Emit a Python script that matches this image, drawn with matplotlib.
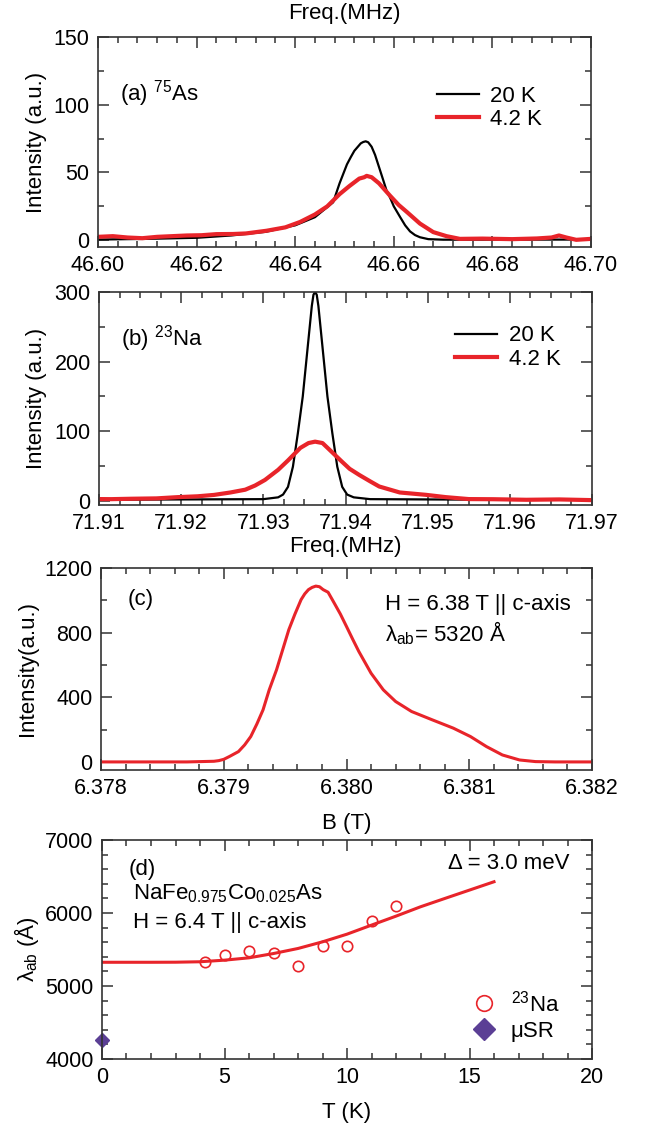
import numpy as np
import matplotlib
matplotlib.use("Agg")
import matplotlib.pyplot as plt
from matplotlib.ticker import MultipleLocator

plt.rcParams['font.family'] = ['Liberation Sans', 'DejaVu Sans']
plt.rcParams['mathtext.fontset'] = 'custom'
plt.rcParams['mathtext.rm'] = 'Liberation Sans'
plt.rcParams['mathtext.it'] = 'Liberation Sans:italic'
plt.rcParams['mathtext.default'] = 'regular'
plt.rcParams['lines.solid_joinstyle'] = 'round'

RED = '#e8242a'
PURPLE = '#5b3f95'

# --- (a) 75As spectra ---
as_freq_20k = [46.600, 46.610, 46.620, 46.627, 46.634, 46.640, 46.644, 46.6477, 46.649,
               46.6505, 46.6513, 46.652, 46.6533, 46.6538, 46.6543, 46.6548, 46.6555,
               46.6562, 46.657, 46.6578, 46.6585, 46.6593, 46.660, 46.6613, 46.6623,
               46.6633, 46.6643, 46.6653, 46.667, 46.670, 46.700]
as_int_20k = [0.5, 1.0, 1.8, 3.5, 6.2, 11, 17, 28, 42,
              56, 61.5, 66, 71.5, 72.5, 73, 72.3, 69,
              63, 54, 45, 37, 31, 25, 17, 11,
              6.5, 3.8, 2.2, 0.8, 0.4, 0.5]
as_freq_4k = [46.600, 46.603, 46.606, 46.609, 46.612, 46.615, 46.618, 46.621, 46.624,
              46.6274, 46.630, 46.6342, 46.638, 46.641, 46.644, 46.6465, 46.649, 46.651,
              46.653, 46.654, 46.6545, 46.6555, 46.657, 46.6592, 46.661, 46.6626, 46.664,
              46.6653, 46.668, 46.6707, 46.6734, 46.678, 46.684, 46.689, 46.692, 46.6935,
              46.695, 46.697, 46.700]
as_int_4k = [2.5, 3.0, 2.0, 1.5, 2.5, 3.0, 3.5, 3.7, 4.5,
             4.6, 5.0, 7.0, 9.5, 13.5, 19, 25, 34, 40,
             45.5, 46.5, 47.5, 46.5, 42, 33, 26, 21, 16.5,
             12.3, 6.0, 3.0, 1.0, 1.2, 0.8, 1.3, 2.0, 3.5,
             2.0, 0.3, 1.0]

# --- (b) 23Na spectra ---
na_freq_20k = [71.910, 71.920, 71.930, 71.9318, 71.9324, 71.933, 71.9336, 71.9342, 71.9348,
               71.9354, 71.9359, 71.9361, 71.9363, 71.9365, 71.9367, 71.9372, 71.9378,
               71.9384, 71.939, 71.9396, 71.9402, 71.941, 71.943, 71.950, 71.960, 71.970]
na_int_20k = [1.5, 2.0, 2.4, 5, 9, 20, 49, 97, 150,
              221, 280, 296, 300, 296, 280, 221, 150,
              97, 49, 20, 9, 5, 2.4, 2.0, 1.5, 1.5]
na_freq_4k = [71.910, 71.9115, 71.914, 71.917, 71.9196, 71.922, 71.924, 71.926, 71.9278,
              71.929, 71.9302, 71.9318, 71.933, 71.9345, 71.9355, 71.9363, 71.9372, 71.938,
              71.9395, 71.9405, 71.9417, 71.943, 71.9441, 71.9466, 71.9498, 71.9522,
              71.955, 71.958, 71.962, 71.966, 71.970]
na_int_4k = [2.5, 2.4, 3.0, 3.5, 5.3, 6.5, 8.5, 12, 16,
             22, 30, 44.5, 58, 76, 83, 85, 83, 74,
             57, 46, 37, 28, 20.6, 12, 8.6, 5.3,
             2.5, 2.3, 1.5, 2.0, 1.0]

# --- (c) field distribution ---
field_b = [6.3780, 6.3787, 6.37892, 6.37896, 6.3790, 6.37905, 6.37912, 6.37917, 6.37922,
           6.37927, 6.37932, 6.37937, 6.37943, 6.37953, 6.37958, 6.37963, 6.37966,
           6.37969, 6.37972, 6.37975, 6.37978, 6.37981, 6.37985, 6.3799, 6.37995,
           6.3800, 6.38005, 6.3801, 6.3802, 6.3803, 6.3804, 6.38053, 6.3807, 6.38087,
           6.38101, 6.38114, 6.38127, 6.38141, 6.38154, 6.3817, 6.3820]
field_int = [0, 0, 4, 8, 16, 35, 64, 105, 157,
             235, 322, 445, 570, 818, 915, 1004, 1040,
             1066, 1080, 1088, 1084, 1066, 1050, 983, 915,
             838, 760, 684, 549, 446, 374, 312, 260, 209,
             157, 95, 43, 12, 2, 0, 0]

# --- (d) penetration depth vs temperature ---
temp_na = [4.2, 5, 6, 7, 8, 9, 10, 11, 12]
lam_na = [5322, 5418, 5482, 5450, 5276, 5546, 5546, 5893, 6095]
temp_musr = [0]
lam_musr = [4260]
temp_fit = [0, 1, 2, 3, 4, 5, 6, 7, 8, 9, 10, 11, 12, 13, 14, 15, 16]
lam_fit = [5325, 5325, 5325, 5326, 5332, 5354, 5386, 5445, 5514, 5605, 5710, 5834,
           5957, 6085, 6200, 6314, 6428]

TICK_FS = 15.5
LABEL_FS = 16


def style_axes(ax):
    for s in ax.spines.values():
        s.set_linewidth(1.2)
        s.set_color('#333333')
    ax.tick_params(which='both', direction='in', top=True, right=True,
                   labelsize=TICK_FS, color='#333333', width=1.1)
    ax.tick_params(which='major', length=8, pad=6)
    ax.tick_params(which='minor', length=4.5)


fig = plt.figure(figsize=(6.47, 11.26), dpi=100)
W, H = 647.0, 1126.0


def make_axes(left, right, top, bottom):
    return fig.add_axes([left / W, 1 - bottom / H, (right - left) / W, (bottom - top) / H])


# (a)
ax = make_axes(98, 591, 37, 247)
ax.plot(as_freq_20k, as_int_20k, color='black', lw=1.6, label='20 K')
ax.plot(as_freq_4k, as_int_4k, color=RED, lw=3.0, label='4.2 K')
ax.set_xlim(46.60, 46.70)
ax.set_ylim(-5, 150)
ax.xaxis.set_major_locator(MultipleLocator(0.02))
ax.xaxis.set_minor_locator(MultipleLocator(0.004))
ax.yaxis.set_major_locator(MultipleLocator(50))
ax.yaxis.set_minor_locator(MultipleLocator(25))
ax.set_xticklabels([f'{v:.2f}' for v in ax.get_xticks()])
ax.xaxis.set_label_position('top')
ax.set_xlabel('Freq.(MHz)', fontsize=LABEL_FS, labelpad=13)
ax.set_ylabel('Intensity (a.u.)', fontsize=LABEL_FS, labelpad=5)
ax.text(0.045, 0.73, '(a) $^{75}$As', transform=ax.transAxes, fontsize=LABEL_FS, va='center')
ax.legend(loc='upper left', bbox_to_anchor=(0.665, 0.82), frameon=False, fontsize=LABEL_FS,
          handlelength=1.9, handletextpad=0.5, labelspacing=0.1, borderpad=0)
style_axes(ax)

# (b)
ax = make_axes(99, 592, 292, 505)
ax.plot(na_freq_20k, na_int_20k, color='black', lw=1.6, label='20 K')
ax.plot(na_freq_4k, na_int_4k, color=RED, lw=3.0, label='4.2 K')
ax.set_xlim(71.91, 71.97)
ax.set_ylim(-6, 300)
ax.xaxis.set_major_locator(MultipleLocator(0.01))
ax.xaxis.set_minor_locator(MultipleLocator(0.0025))
ax.yaxis.set_major_locator(MultipleLocator(100))
ax.yaxis.set_minor_locator(MultipleLocator(50))
ax.set_xticklabels([f'{v:.2f}' for v in ax.get_xticks()])
ax.set_xlabel('Freq.(MHz)', fontsize=LABEL_FS, labelpad=1)
ax.set_ylabel('Intensity (a.u.)', fontsize=LABEL_FS, labelpad=5)
ax.text(0.045, 0.78, '(b) $^{23}$Na', transform=ax.transAxes, fontsize=LABEL_FS, va='center')
ax.legend(loc='upper left', bbox_to_anchor=(0.70, 0.895), frameon=False, fontsize=LABEL_FS,
          handlelength=1.9, handletextpad=0.5, labelspacing=0.1, borderpad=0)
style_axes(ax)

# (c)
ax = make_axes(101, 592, 568, 770)
ax.plot(field_b, field_int, color=RED, lw=2.2)
ax.set_xlim(6.378, 6.382)
ax.set_ylim(-50, 1200)
ax.xaxis.set_major_locator(MultipleLocator(0.001))
ax.xaxis.set_minor_locator(MultipleLocator(0.0002))
ax.yaxis.set_major_locator(MultipleLocator(400))
ax.yaxis.set_minor_locator(MultipleLocator(200))
ax.set_xticklabels([f'{v:.3f}' for v in ax.get_xticks()])
ax.set_xlabel('B (T)', fontsize=LABEL_FS, labelpad=10)
ax.set_ylabel('Intensity(a.u.)', fontsize=LABEL_FS, labelpad=5)
ax.text(0.054, 0.845, '(c)', transform=ax.transAxes, fontsize=LABEL_FS, va='center')
ax.text(0.579, 0.82, 'H = 6.38 T || c-axis', transform=ax.transAxes, fontsize=LABEL_FS, va='center')
ax.text(0.579, 0.675, 'λ$_{ab}$= 5320 Å', transform=ax.transAxes, fontsize=LABEL_FS, va='center')
style_axes(ax)

# (d)
ax = make_axes(102, 592, 840, 1059)
ax.plot(temp_fit, lam_fit, color=RED, lw=2.2)
ax.plot(temp_na, lam_na, 'o', mfc='none', mec=RED, mew=1.2, ms=7.5, label='$^{23}$Na')
ax.plot(temp_musr, lam_musr, 'D', color=PURPLE, ms=7.5, clip_on=False, label='μSR')
ax.set_xlim(0, 20)
ax.set_ylim(4000, 7000)
ax.xaxis.set_major_locator(MultipleLocator(5))
ax.xaxis.set_minor_locator(MultipleLocator(1))
ax.yaxis.set_major_locator(MultipleLocator(1000))
ax.yaxis.set_minor_locator(MultipleLocator(200))
ax.set_xlabel('T (K)', fontsize=LABEL_FS, labelpad=10)
ax.set_ylabel('λ$_{ab}$ (Å)', fontsize=LABEL_FS, labelpad=3)
ax.text(0.055, 0.865, '(d)', transform=ax.transAxes, fontsize=LABEL_FS, va='center')
ax.text(0.063, 0.755, 'NaFe$_{0.975}$Co$_{0.025}$As', transform=ax.transAxes,
        fontsize=LABEL_FS, va='center')
ax.text(0.063, 0.625, 'H = 6.4 T || c-axis', transform=ax.transAxes, fontsize=LABEL_FS, va='center')
ax.text(0.955, 0.893, 'Δ = 3.0 meV', transform=ax.transAxes, fontsize=LABEL_FS,
        va='center', ha='right')
ax.legend(loc='upper left', bbox_to_anchor=(0.73, 0.365), frameon=False, fontsize=LABEL_FS,
          handlelength=1.2, handletextpad=0.6, labelspacing=0.2, borderpad=0,
          markerscale=1.5)
style_axes(ax)

fig.savefig('out.png', dpi=100)
